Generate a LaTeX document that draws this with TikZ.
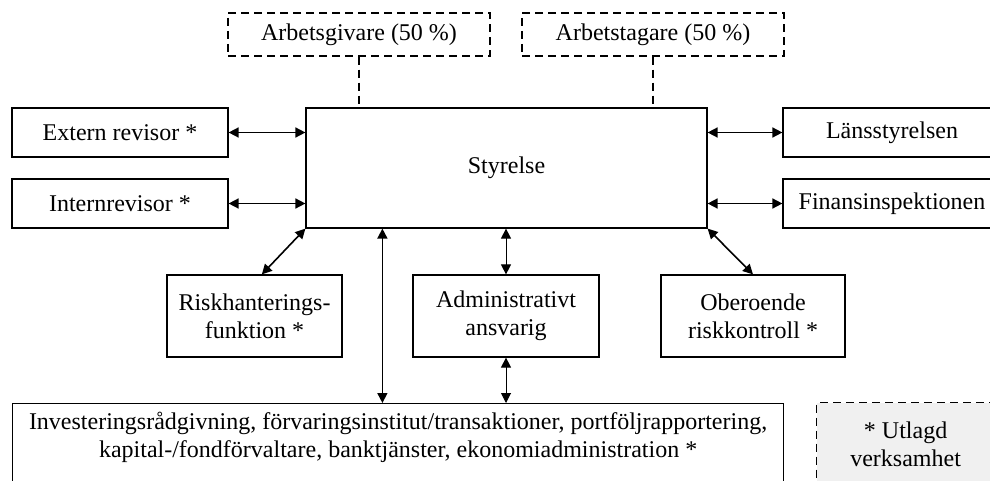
\documentclass[tikz,border=0pt]{standalone}
\usepackage{fontspec}
\setmainfont{Liberation Serif}
\usetikzlibrary{arrows.meta,positioning,calc}

\begin{document}
\begin{tikzpicture}[x=0.5pt,y=-0.5pt,font=\fontsize{12}{14}\selectfont,>={Triangle[length=5pt,width=5pt]},
box/.style={draw,line width=0.6pt,inner sep=2pt,align=center},
dbox/.style={box,dash pattern=on 4pt off 2.5pt},
link/.style={line width=0.8pt,<->}]
\clip (0,0) rectangle (990,481);
% owners
\node[dbox,minimum width=131pt,minimum height=21.5pt] (giv) at (359,34.5) {Arbetsgivare (50 \%)};
\node[dbox,minimum width=131pt,minimum height=21.5pt] (tag) at (653,34.5) {Arbetstagare (50 \%)};
% board and surroundings
\node[box,minimum width=200.5pt,minimum height=60pt] (sty) at (506.5,168) {\raisebox{-1.5pt}{Styrelse}};
\node[box,minimum width=108pt,minimum height=24.5pt] (ext) at (120,132.5) {Extern revisor *};
\node[box,minimum width=108pt,minimum height=24.5pt] (int) at (120,203.5) {Internrevisor *};
\node[box,minimum width=109pt,minimum height=24.5pt] (lan) at (892,132.5) {Länsstyrelsen};
\node[box,minimum width=109pt,minimum height=24.5pt] (fin) at (892,203.5) {Finansinspektionen};
\node[box,minimum width=87.5pt,minimum height=41pt] (risk) at (254.5,316) {Riskhanterings-\\funktion *};
\node[box,minimum width=93pt,minimum height=41pt] (adm) at (506,316) {Administrativt\\ansvarig};
\node[box,minimum width=92pt,minimum height=41pt] (obe) at (753,316) {Oberoende\\riskkontroll *};
\node[box,anchor=north west,minimum width=385.5pt,inner ysep=4.5pt,text depth=16pt] (inv) at (12,403)
  {Investeringsrådgivning,\ förvaringsinstitut/transaktioner,\ portföljrapportering,\\kapital-/fondförvaltare,\ banktjänster,\ ekonomiadministration *};
\node[dbox,fill=black!6,anchor=north west,minimum width=89pt,minimum height=42pt] (utl) at (816,402) {* Utlagd\\verksamhet};
% connectors
\draw[dash pattern=on 4pt off 2.5pt,line width=0.6pt] (giv.south) -- (giv.south |- sty.north);
\draw[dash pattern=on 4pt off 2.5pt,line width=0.6pt] (tag.south) -- (tag.south |- sty.north);
\draw[link] (ext.east) -- (ext.east -| sty.west);
\draw[link] (int.east) -- (int.east -| sty.west);
\draw[link] (lan.west -| sty.east) -- (lan.west);
\draw[link] (fin.west -| sty.east) -- (fin.west);
\draw[link] (sty.south west) -- (risk.80);
\draw[link] (sty.south east) -- (obe.north);
\draw[link] ([xshift=38.5pt]sty.south west) -- ([xshift=38.5pt]sty.south west |- inv.north);
\draw[link,line width=0.5pt] (adm.north |- sty.south) -- (adm.north);
\draw[link,line width=0.5pt] (adm.south) -- (adm.south |- inv.north);
\end{tikzpicture}
\end{document}
